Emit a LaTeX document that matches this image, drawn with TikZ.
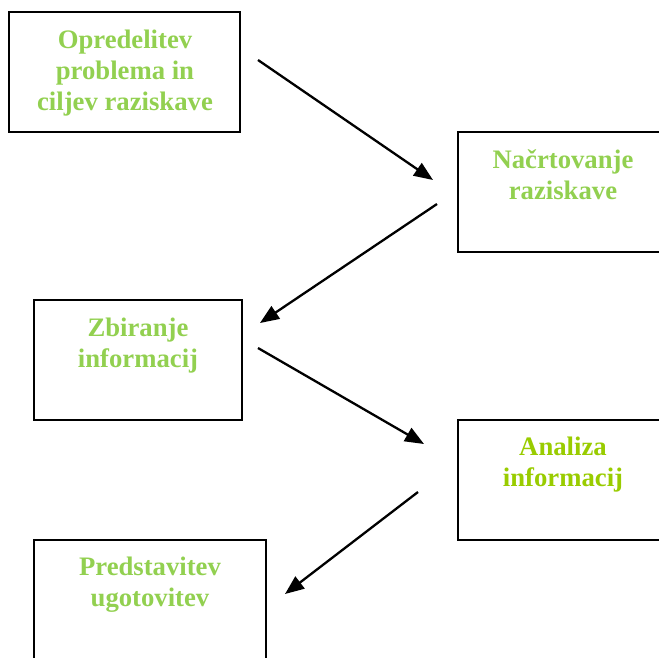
\documentclass[tikz,border=0pt]{standalone}
\usepackage{fontspec}
\setmainfont{Liberation Serif}
\usetikzlibrary{arrows.meta}
\definecolor{lbl}{HTML}{92D050}
\definecolor{lblb}{HTML}{99CC00}
\tikzset{
  stage/.style={draw=black, line width=2.3pt, fill=none},
  lab/.style={text=lbl, font=\fontsize{26.7pt}{31pt}\selectfont\bfseries, align=center, inner sep=0pt, anchor=base},
  flow/.style={line width=2.3pt, -{Triangle[length=19pt,width=15pt]}}
}
\begin{document}
\begin{tikzpicture}[x=1pt,y=-1pt]
\useasboundingbox (0,0) rectangle (659,657);
\begin{scope}
\clip (0,0) rectangle (659,657);
\draw[stage] (9,12) rectangle (240,132);
\draw[stage] (458,132) rectangle (670,252);
\draw[stage] (34,300) rectangle (242,420);
\draw[stage] (458,420) rectangle (670,540);
\draw[stage] (34,540) rectangle (266,670);
\end{scope}
\node[lab] (t1) at (125,110) {Opredelitev\\problema in\\ciljev raziskave};
\node[lab] (t2) at (563,199) {Načrtovanje\\raziskave};
\node[lab] (t3) at (138,367) {Zbiranje\\informacij};
\node[lab, text=lblb] (t4) at (563,486) {Analiza\\informacij};
\node[lab] (t5) at (150,606) {Predstavitev\\ugotovitev};
\coordinate (a1s) at (258,60);
\coordinate (a1e) at (433,180);
\coordinate (a2s) at (437,204);
\coordinate (a2e) at (260,323);
\coordinate (a3s) at (258,348);
\coordinate (a3e) at (424,444);
\coordinate (a4s) at (418,492);
\coordinate (a4e) at (285,594);
\draw[flow] (a1s) -- (a1e);
\draw[flow] (a2s) -- (a2e);
\draw[flow] (a3s) -- (a3e);
\draw[flow] (a4s) -- (a4e);
\end{tikzpicture}
\end{document}
